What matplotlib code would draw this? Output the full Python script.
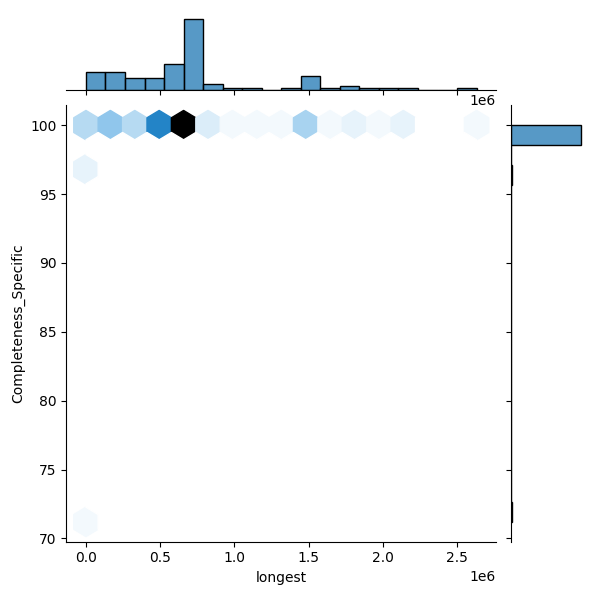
import numpy as np
import pandas as pd
import seaborn as sns
import matplotlib
matplotlib.use("Agg")
import matplotlib.pyplot as plt

# x-bin representative values (bp) and counts at Completeness 100
bin_x = [63000, 190000, 316000, 443000, 569000, 696000, 822000, 949000, 1075000,
         1328000, 1455000, 1708000, 1834000, 1961000, 2087000, 2214000, 2630000]
bin_n = [6, 9, 6, 6, 13, 35, 3, 1, 1, 1, 7, 1, 2, 1, 1, 1, 1]
extra_x = [0, 10000, 5000]
extra_y = [97.0, 96.8, 71.2]

longest = list(np.repeat(bin_x, bin_n)) + extra_x
comp = [100.0] * int(sum(bin_n)) + extra_y
df = pd.DataFrame({"longest": longest, "Completeness_Specific": comp})

g = sns.jointplot(data=df, x="longest", y="Completeness_Specific", kind="hex", height=6)
g.figure.savefig("out.png", dpi=100)
